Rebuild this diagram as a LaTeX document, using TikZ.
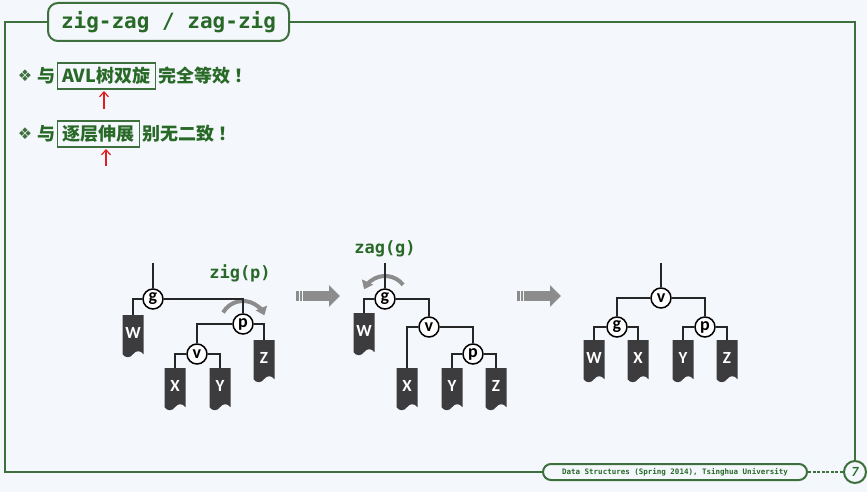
\documentclass[tikz,border=0pt]{standalone}
\usepackage{fontspec}
\setmainfont{Carlito}
\newfontfamily\cjkfont{Noto Sans CJK SC}
\newfontfamily\codefont{DejaVu Sans Mono}
\newfontfamily\symfont{DejaVu Sans}
\usetikzlibrary{positioning,shapes.symbols,arrows.meta}

\definecolor{framegreen}{RGB}{62,112,62}
\definecolor{textgreen}{RGB}{40,105,40}
\definecolor{bgblue}{RGB}{244,247,251}
\definecolor{leafgray}{RGB}{60,60,62}
\definecolor{arrowgray}{RGB}{140,140,140}
\definecolor{markred}{RGB}{225,30,30}

\tikzset{
  rim/.style={draw=framegreen, line width=2pt},
  knot/.style={circle, draw, fill=white, line width=1.5pt, minimum size=20pt,
    inner sep=0pt, font=\bfseries\fontsize{18}{18}\selectfont},
  leaf/.style={tape, tape bend top=none, tape bend height=6pt, fill=leafgray,
    minimum width=21pt, minimum height=42pt, inner sep=0pt, anchor=north,
    text=white, font=\bfseries\fontsize{17}{17}\selectfont},
  link/.style={draw=black!85, line width=2pt},
  spin/.style={draw=arrowgray, line width=4pt, -{Triangle[length=8pt,width=12pt]}},
  pass/.style={draw=arrowgray, line width=10pt, -{Triangle[length=11pt,width=21pt]}},
  op/.style={text=textgreen, font=\codefont\bfseries\fontsize{17}{17}\selectfont},
  say/.style={text=textgreen, inner xsep=1pt, font=\cjkfont\bfseries\fontsize{18}{18}\selectfont},
  hit/.style={say, draw=framegreen, line width=1.2pt, inner xsep=5pt, minimum height=26pt},
  pointer/.style={draw=markred, line width=1.2pt, -{Straight Barb[length=5pt,width=9pt]}},
}

\begin{document}
\begin{tikzpicture}[x=1pt, y=-1pt]
  \useasboundingbox (0,0) rectangle (867,492);
  \fill[bgblue] (0,0) rectangle (867,492);

  % frame
  \node[rim, rounded corners=10pt, fill=bgblue, minimum width=241pt, minimum height=38pt,
    text=textgreen, font=\codefont\bfseries\fontsize{21}{21}\selectfont] (title) at (168.5,22) {zig-zag / zag-zig};
  \node[rim, rounded corners=8pt, fill=bgblue, minimum width=264pt, minimum height=16pt, inner sep=0pt,
    text=textgreen, font=\codefont\bfseries\fontsize{7.5}{7.5}\selectfont] (foot) at (675,472) {Data Structures (Spring 2014), Tsinghua University};
  \node[rim, circle, fill=bgblue, minimum size=22pt, inner sep=0pt, text=textgreen,
    font=\itshape\bfseries\fontsize{14}{14}\selectfont] (page) at (855,472) {7};
  \draw[rim] (title.west) -- (5,22) -- (5,472) -- (foot.west);
  \draw[rim] (title.east) -| (page.north);
  \draw[rim, line width=1.5pt, dash pattern=on 3pt off 1.5pt] (foot.east) -- (page.west);

  % the two remarks
  \foreach \i/\y in {1/76, 2/134}
    \node[text=framegreen, font=\symfont\fontsize{16}{16}\selectfont, inner xsep=1pt] (dot-\i) at (25,\y) {❖};
  \node[say, right=3pt of dot-1] (yu-1) {与};
  \node[hit, right=0pt of yu-1] (hit-1) {AVL树双旋};
  \node[say, right=2pt of hit-1] (rest-1) {完全等效\hspace{4pt}！};
  \node[say, right=3pt of dot-2] (yu-2) {与};
  \node[hit, right=0pt of yu-2] (hit-2) {逐层伸展};
  \node[say, right=1pt of hit-2] (rest-2) {别无二致\hspace{4pt}！};

  \coordinate (tail-1) at (104,109);
  \coordinate (tip-1) at (104,91);
  \coordinate (tail-2) at (106,166);
  \coordinate (tip-2) at (106,149);
  \draw[pointer] (tail-1) -- (tip-1);
  \draw[pointer] (tail-2) -- (tip-2);

  % before: zig(p)
  \coordinate (top-1) at (153,263);
  \node[knot] (g-1) at (153,299) {g};
  \node[knot] (p-1) at (243,324) {p};
  \node[knot] (v-1) at (197,354) {v};
  \foreach \n/\x/\y in {W/133/315, X/175/368, Y/220/368, Z/264/340}
    \node[leaf] (\n-1) at (\x,\y) {\n};
  \node[op] (zig) at (240,273) {zig(p)};
  \draw[spin] ([shift={(150:23pt)}]p-1.center) arc[start angle=150, end angle=22, radius=23pt];
  \draw[link] (top-1) -- (g-1);
  \foreach \from/\to in {g/W, g/p, p/v, p/Z, v/X, v/Y}
    \draw[link] (\from-1) -| (\to-1);

  % between: zag(g)
  \coordinate (top-2) at (385,263);
  \node[knot] (g-2) at (385,299) {g};
  \node[knot] (v-2) at (429,327) {v};
  \node[knot] (p-2) at (473,354) {p};
  \foreach \n/\x/\y in {W/364/313, X/407/368, Y/452/368, Z/496/368}
    \node[leaf] (\n-2) at (\x,\y) {\n};
  \node[op] (zag) at (385,249) {zag(g)};
  \draw[spin] ([shift={(38:23pt)}]g-2.center) arc[start angle=38, end angle=155, radius=23pt];
  \draw[link] (top-2) -- (g-2);
  \foreach \from/\to in {g/W, g/v, v/X, v/p, p/Y, p/Z}
    \draw[link] (\from-2) -| (\to-2);

  % after
  \coordinate (top-3) at (661,263);
  \node[knot] (v-3) at (661,298) {v};
  \node[knot] (g-3) at (617,327) {g};
  \node[knot] (p-3) at (705,327) {p};
  \foreach \n/\x/\y in {W/594/340, X/638/340, Y/683/340, Z/727/340}
    \node[leaf] (\n-3) at (\x,\y) {\n};
  \draw[link] (top-3) -- (v-3);
  \foreach \from/\to in {v/g, v/p, g/W, g/X, p/Y, p/Z}
    \draw[link] (\from-3) -| (\to-3);

  % steps
  \foreach \i/\x in {1/296, 2/517} {
    \fill[arrowgray] (\x,291) rectangle ++(2.5,10);
    \fill[arrowgray] (\x+3.5,291) rectangle ++(2.5,10);
    \coordinate (from-\i) at (\x+7,296);
    \coordinate (to-\i) at (\x+44,296);
    \draw[pass] (from-\i) -- (to-\i);
  }
\end{tikzpicture}
\end{document}
